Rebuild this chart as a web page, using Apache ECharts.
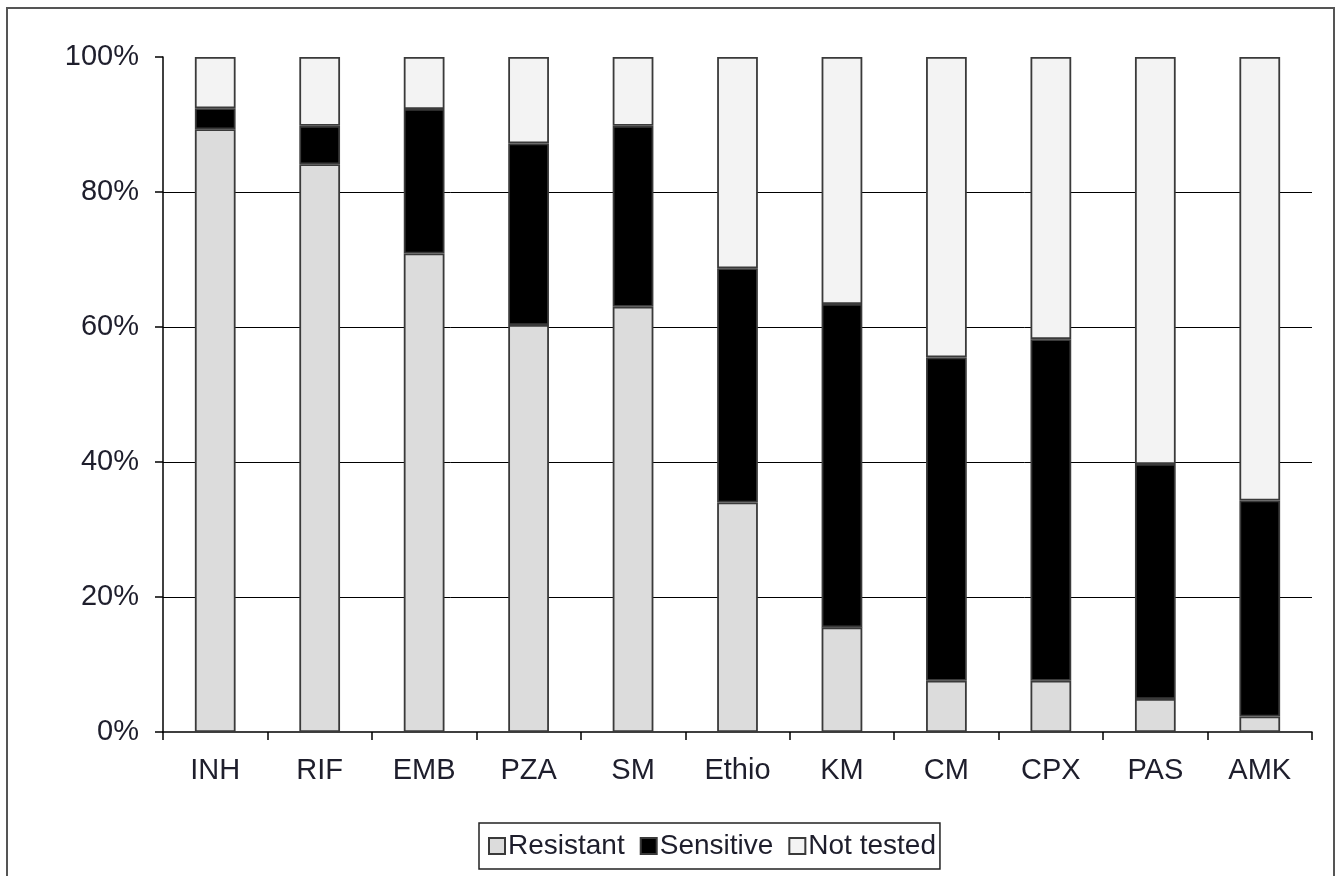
<!DOCTYPE html>
<html>
<head>
<meta charset="utf-8">
<script src="https://cdn.jsdelivr.net/npm/echarts@6/dist/echarts.min.js"></script>
<style>
html,body{margin:0;padding:0;background:#fff;}
#chart{width:1342px;height:876px;}
</style>
</head>
<body>
<div id="chart"></div>
<script>
const categories = ['INH','RIF','EMB','PZA','SM','Ethio','KM','CM','CPX','PAS','AMK'];
const resistant  = [89.3, 84.1, 70.9, 60.3, 63.0, 34.0, 15.5, 7.6, 7.6, 4.9, 2.3];
const sensitive  = [3.1, 5.7, 21.4, 26.9, 26.8, 34.7, 47.9, 47.9, 50.6, 34.8, 32.0];
const notTested  = [7.6, 10.2, 7.7, 12.8, 10.2, 31.3, 36.6, 44.5, 41.8, 60.3, 65.7];
const yTicks = [0, 20, 40, 60, 80, 100];

const textColor = '#1e1e2c';
const font = 'Liberation Sans, Arial, sans-serif';
const border = {borderColor: '#3a3a3a', borderWidth: 1.8};

const chart = echarts.init(document.getElementById('chart'), null, {renderer: 'canvas'});
chart.setOption({
  animation: false,
  backgroundColor: '#fff',
  textStyle: {fontFamily: font},
  graphic: [{
    type: 'rect',
    shape: {x: 7, y: 8, width: 1327, height: 900},
    style: {fill: 'none', stroke: '#555', lineWidth: 2},
    silent: true
  }],
  grid: {left: 163, right: 30, top: 57, bottom: 144, containLabel: false},
  legend: {
    left: 479, top: 823,
    padding: [9, 4, 9, 9],
    borderColor: '#222', borderWidth: 1.5,
    itemWidth: 16, itemHeight: 16, itemGap: 15,
    icon: 'rect',
    textStyle: {fontSize: 28, color: textColor, fontFamily: font, padding: [0, 0, 0, -2]},
    data: ['Resistant', 'Sensitive', 'Not tested']
  },
  xAxis: {
    type: 'category',
    data: categories,
    axisLine: {lineStyle: {color: '#000', width: 1.5}},
    axisTick: {show: true, length: 8, lineStyle: {color: '#000', width: 1.5}},
    axisLabel: {fontSize: 29, color: textColor, margin: 24, fontFamily: font}
  },
  yAxis: {
    type: 'value',
    min: yTicks[0], max: yTicks[yTicks.length - 1], interval: 20,
    axisLine: {show: true, lineStyle: {color: '#000', width: 1.5}},
    axisTick: {show: true, length: 8, lineStyle: {color: '#000', width: 1.5}},
    axisLabel: {fontSize: 29, color: textColor, margin: 24, fontFamily: font, formatter: v => v + '%'},
    splitLine: {show: true, showMinLine: false, showMaxLine: false, lineStyle: {color: '#000', width: 1}}
  },
  series: [
    {name: 'Resistant', type: 'bar', stack: 't', data: resistant, barWidth: '39%',
     itemStyle: Object.assign({color: '#dcdcdc'}, border)},
    {name: 'Sensitive', type: 'bar', stack: 't', data: sensitive, barWidth: '39%',
     itemStyle: Object.assign({color: '#000'}, border)},
    {name: 'Not tested', type: 'bar', stack: 't', data: notTested, barWidth: '39%',
     itemStyle: Object.assign({color: '#f3f3f3'}, border)}
  ]
});
</script>
</body>
</html>
